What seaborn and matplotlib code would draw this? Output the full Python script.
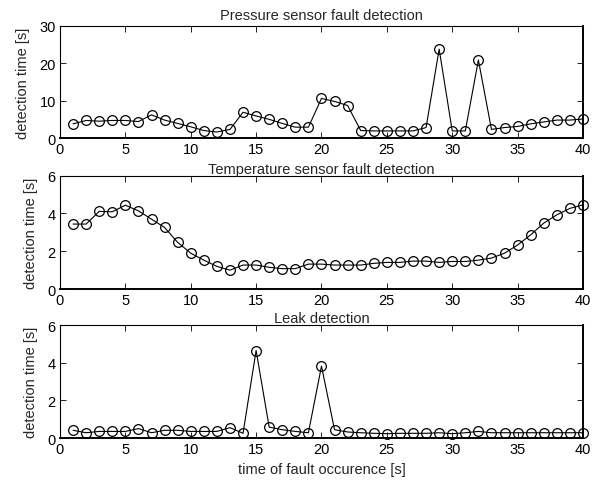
import numpy as np
import pandas as pd
import matplotlib
matplotlib.use("Agg")
import matplotlib.pyplot as plt
import seaborn as sns

t = list(range(1, 41))

pressure = [3.8, 4.7, 4.5, 4.7, 4.7, 4.4, 6.2, 4.8, 3.9, 3.0,
            2.0, 1.6, 2.3, 6.9, 5.9, 5.0, 3.9, 2.9, 2.9, 10.6,
            9.8, 8.7, 2.0, 1.9, 1.9, 1.9, 1.9, 2.8, 23.8, 1.9,
            1.9, 20.9, 2.3, 2.8, 3.1, 3.8, 4.3, 4.8, 4.8, 5.1]

temperature = [3.44, 3.44, 4.11, 4.09, 4.44, 4.14, 3.70, 3.26, 2.47, 1.90,
               1.53, 1.20, 1.00, 1.27, 1.27, 1.15, 1.08, 1.08, 1.32, 1.32,
               1.27, 1.27, 1.27, 1.36, 1.41, 1.41, 1.48, 1.48, 1.41, 1.46,
               1.46, 1.53, 1.64, 1.90, 2.33, 2.87, 3.49, 3.93, 4.27, 4.46]

leak = [0.41, 0.28, 0.35, 0.35, 0.35, 0.50, 0.28, 0.41, 0.41, 0.35,
        0.35, 0.35, 0.55, 0.25, 4.65, 0.58, 0.44, 0.35, 0.28, 3.82,
        0.44, 0.32, 0.28, 0.25, 0.23, 0.25, 0.25, 0.25, 0.28, 0.23,
        0.28, 0.35, 0.28, 0.28, 0.28, 0.28, 0.28, 0.28, 0.28, 0.28]

titles = ["Pressure sensor fault detection",
          "Temperature sensor fault detection",
          "Leak detection"]
ylims = [(0, 30), (0, 6), (0, 6)]
yticks = [[0, 10, 20, 30], [0, 2, 4, 6], [0, 2, 4, 6]]
xticks = [0, 5, 10, 15, 20, 25, 30, 35, 40]
ylabel = "detection time [s]"
xlabel = "time of fault occurence [s]"

sns.set_theme(style="white")
plt.rcParams['font.family'] = ['Liberation Sans', 'DejaVu Sans']
plt.rcParams['font.size'] = 10

fig = plt.figure(figsize=(5.95, 4.81), dpi=100)
boxes = [(0.1008, 0.711, 0.879, 0.2329),
         (0.1008, 0.397, 0.879, 0.2356),
         (0.1008, 0.0873, 0.879, 0.2347)]
title_pads = [5, 2, 2]

series = [pressure, temperature, leak]
for i, (box, y) in enumerate(zip(boxes, series)):
    ax = fig.add_axes(box)
    df = pd.DataFrame({"t": t, "v": y})
    sns.lineplot(data=df, x="t", y="v", ax=ax, color="black", linewidth=0.8,
                 marker="o", markersize=7, markerfacecolor="none",
                 markeredgecolor="black", markeredgewidth=0.9, clip_on=False)
    ax.set_xlim(0, 40)
    ax.set_ylim(*ylims[i])
    ax.set_xticks(xticks)
    ax.set_yticks(yticks[i])
    ax.tick_params(direction="in", top=True, right=True, bottom=True, left=True,
                   length=4, width=0.6, labelsize=10.5, colors="black", pad=3)
    ax.tick_params(labeltop=False, labelright=False)
    for s in ax.spines.values():
        s.set_color("black")
        s.set_linewidth(0.8)
    ax.spines["bottom"].set_linewidth(1.4)
    ax.spines["right"].set_linewidth(1.4)
    ax.set_title(titles[i], fontsize=10.5, pad=title_pads[i])
    ax.set_ylabel(ylabel, fontsize=10.5, labelpad=7)
    ax.set_xlabel(xlabel if i == 2 else "", fontsize=10.5, labelpad=4)
    ax.grid(False)

fig.savefig("out.png", dpi=100)
